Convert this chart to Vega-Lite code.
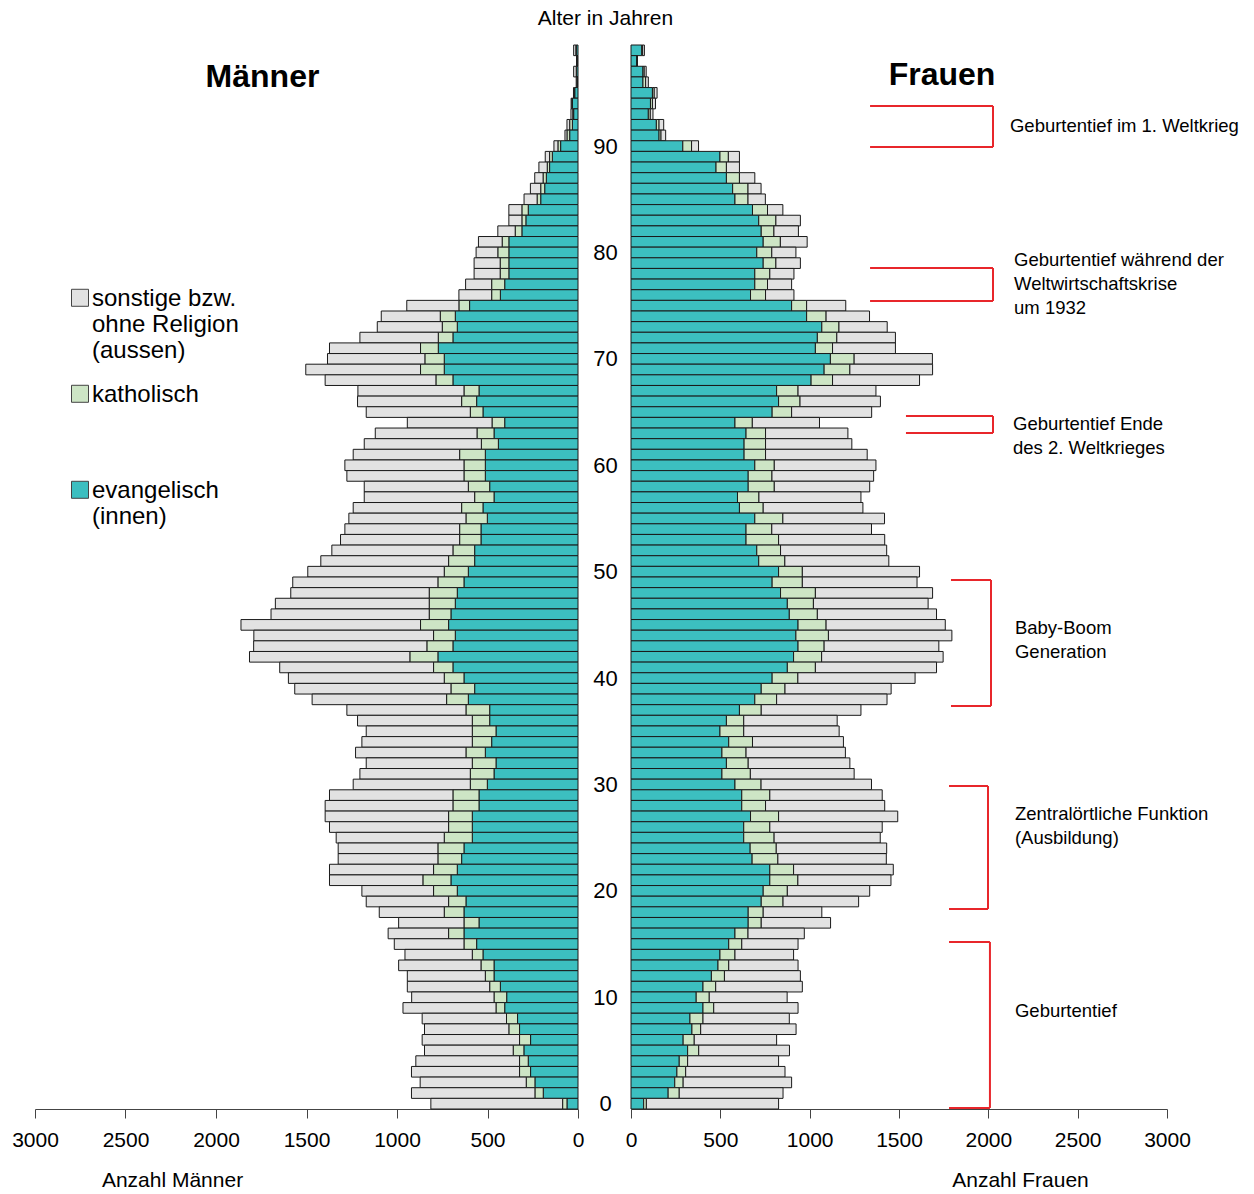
{
"$schema": "https://vega.github.io/schema/vega-lite/v6.json",
"background": "white",
"padding": {"left": 11, "top": 7, "right": 0, "bottom": 0},
"config": {"font": "Liberation Sans", "view": {"stroke": null}, "axis": {"grid": false}, "style": {"guide-label": {"lineHeight": 26}}},
"datasets": {
"maenner": [
{"a":99,"ev":10,"ka":2,"so":12},{"a":98,"ev":5,"ka":0,"so":3},{"a":97,"ev":8,"ka":2,"so":14},{"a":96,"ev":5,"ka":1,"so":4},{"a":95,"ev":18,"ka":2,"so":5},
{"a":94,"ev":31,"ka":3,"so":4},{"a":93,"ev":24,"ka":5,"so":10},{"a":92,"ev":31,"ka":15,"so":15},{"a":91,"ev":46,"ka":15,"so":11},{"a":90,"ev":96,"ka":15,"so":22},
{"a":89,"ev":142,"ka":15,"so":24},{"a":88,"ev":157,"ka":13,"so":46},{"a":87,"ev":175,"ka":18,"so":46},{"a":86,"ev":184,"ka":22,"so":57},{"a":85,"ev":206,"ka":20,"so":72},
{"a":84,"ev":275,"ka":35,"so":72},{"a":83,"ev":288,"ka":22,"so":72},{"a":82,"ev":310,"ka":37,"so":96},{"a":81,"ev":382,"ka":37,"so":131},{"a":80,"ev":382,"ka":61,"so":120},
{"a":79,"ev":382,"ka":48,"so":144},{"a":78,"ev":382,"ka":48,"so":144},{"a":77,"ev":405,"ka":72,"so":144},{"a":76,"ev":429,"ka":48,"so":181},{"a":75,"ev":599,"ka":59,"so":288},
{"a":74,"ev":678,"ka":83,"so":326},{"a":73,"ev":667,"ka":83,"so":359},{"a":72,"ev":691,"ka":81,"so":433},{"a":71,"ev":772,"ka":98,"so":503},{"a":70,"ev":739,"ka":107,"so":538},
{"a":69,"ev":739,"ka":131,"so":634},{"a":68,"ev":691,"ka":94,"so":612},{"a":67,"ev":547,"ka":83,"so":586},{"a":66,"ev":560,"ka":83,"so":575},{"a":65,"ev":525,"ka":70,"so":575},
{"a":64,"ev":405,"ka":70,"so":468},{"a":63,"ev":464,"ka":94,"so":562},{"a":62,"ev":440,"ka":94,"so":647},{"a":61,"ev":512,"ka":142,"so":588},{"a":60,"ev":512,"ka":118,"so":658},
{"a":59,"ev":512,"ka":118,"so":647},{"a":58,"ev":488,"ka":118,"so":575},{"a":57,"ev":464,"ka":107,"so":610},{"a":56,"ev":525,"ka":118,"so":599},{"a":55,"ev":501,"ka":118,"so":647},
{"a":54,"ev":536,"ka":118,"so":634},{"a":53,"ev":536,"ka":118,"so":658},{"a":52,"ev":571,"ka":120,"so":669},{"a":51,"ev":571,"ka":144,"so":706},{"a":50,"ev":606,"ka":133,"so":754},
{"a":49,"ev":630,"ka":144,"so":802},{"a":48,"ev":667,"ka":155,"so":765},{"a":47,"ev":678,"ka":144,"so":850},{"a":46,"ev":702,"ka":120,"so":874},{"a":45,"ev":715,"ka":155,"so":992},
{"a":44,"ev":678,"ka":120,"so":993},{"a":43,"ev":691,"ka":144,"so":957},{"a":42,"ev":774,"ka":155,"so":886},{"a":41,"ev":691,"ka":107,"so":850},{"a":40,"ev":630,"ka":109,"so":861},
{"a":39,"ev":571,"ka":131,"so":863},{"a":38,"ev":606,"ka":120,"so":743},{"a":37,"ev":488,"ka":131,"so":658},{"a":36,"ev":488,"ka":96,"so":634},{"a":35,"ev":453,"ka":131,"so":586},
{"a":34,"ev":477,"ka":107,"so":610},{"a":33,"ev":512,"ka":107,"so":610},{"a":32,"ev":453,"ka":131,"so":586},{"a":31,"ev":464,"ka":131,"so":610},{"a":30,"ev":501,"ka":94,"so":647},
{"a":29,"ev":547,"ka":144,"so":682},{"a":28,"ev":547,"ka":144,"so":706},{"a":27,"ev":584,"ka":131,"so":682},{"a":26,"ev":584,"ka":131,"so":658},{"a":25,"ev":584,"ka":155,"so":597},
{"a":24,"ev":630,"ka":144,"so":551},{"a":23,"ev":643,"ka":131,"so":551},{"a":22,"ev":667,"ka":131,"so":575},{"a":21,"ev":702,"ka":155,"so":516},{"a":20,"ev":667,"ka":131,"so":396},
{"a":19,"ev":619,"ka":96,"so":455},{"a":18,"ev":630,"ka":109,"so":359},{"a":17,"ev":547,"ka":83,"so":361},{"a":16,"ev":630,"ka":85,"so":334},{"a":15,"ev":560,"ka":70,"so":385},
{"a":14,"ev":525,"ka":59,"so":372},{"a":13,"ev":464,"ka":72,"so":455},{"a":12,"ev":464,"ka":48,"so":431},{"a":11,"ev":429,"ka":59,"so":455},{"a":10,"ev":394,"ka":70,"so":455},
{"a":9,"ev":405,"ka":48,"so":514},{"a":8,"ev":334,"ka":61,"so":466},{"a":7,"ev":323,"ka":59,"so":466},{"a":6,"ev":262,"ka":61,"so":538},{"a":5,"ev":299,"ka":59,"so":490},
{"a":4,"ev":275,"ka":48,"so":573},{"a":3,"ev":262,"ka":61,"so":597},{"a":2,"ev":238,"ka":48,"so":586},{"a":1,"ev":192,"ka":46,"so":682},{"a":0,"ev":61,"ka":24,"so":728}
],
"frauen": [
{"a":99,"ev":60,"ka":5,"so":10},{"a":98,"ev":34,"ka":0,"so":0},{"a":97,"ev":67,"ka":7,"so":11},{"a":96,"ev":67,"ka":15,"so":15},{"a":95,"ev":120,"ka":10,"so":16},
{"a":94,"ev":109,"ka":11,"so":17},{"a":93,"ev":97,"ka":11,"so":15},{"a":92,"ev":142,"ka":15,"so":26},{"a":91,"ev":157,"ka":11,"so":26},{"a":90,"ev":290,"ka":49,"so":39},
{"a":89,"ev":498,"ka":47,"so":62},{"a":88,"ev":476,"ka":58,"so":73},{"a":87,"ev":534,"ka":73,"so":86},{"a":86,"ev":569,"ka":86,"so":73},{"a":85,"ev":582,"ka":73,"so":97},
{"a":84,"ev":680,"ka":84,"so":86},{"a":83,"ev":715,"ka":96,"so":137},{"a":82,"ev":729,"ka":71,"so":137},{"a":81,"ev":740,"ka":96,"so":150},{"a":80,"ev":704,"ka":84,"so":135},
{"a":79,"ev":740,"ka":71,"so":137},{"a":78,"ev":693,"ka":84,"so":135},{"a":77,"ev":693,"ka":71,"so":135},{"a":76,"ev":669,"ka":84,"so":159},{"a":75,"ev":899,"ka":84,"so":219},
{"a":74,"ev":983,"ka":109,"so":243},{"a":73,"ev":1068,"ka":96,"so":270},{"a":72,"ev":1043,"ka":109,"so":328},{"a":71,"ev":1032,"ka":96,"so":352},{"a":70,"ev":1116,"ka":133,"so":438},
{"a":69,"ev":1081,"ka":144,"so":463},{"a":68,"ev":1008,"ka":120,"so":487},{"a":67,"ev":815,"ka":120,"so":436},{"a":66,"ev":826,"ka":120,"so":450},{"a":65,"ev":790,"ka":109,"so":448},
{"a":64,"ev":582,"ka":97,"so":376},{"a":63,"ev":644,"ka":109,"so":461},{"a":62,"ev":633,"ka":120,"so":483},{"a":61,"ev":633,"ka":120,"so":569},{"a":60,"ev":693,"ka":109,"so":569},
{"a":59,"ev":656,"ka":133,"so":569},{"a":58,"ev":656,"ka":146,"so":534},{"a":57,"ev":596,"ka":120,"so":571},{"a":56,"ev":607,"ka":133,"so":558},{"a":55,"ev":693,"ka":157,"so":569},
{"a":54,"ev":644,"ka":144,"so":558},{"a":53,"ev":644,"ka":182,"so":594},{"a":52,"ev":704,"ka":133,"so":594},{"a":51,"ev":715,"ka":146,"so":582},{"a":50,"ev":826,"ka":133,"so":656},
{"a":49,"ev":790,"ka":169,"so":642},{"a":48,"ev":837,"ka":195,"so":656},{"a":47,"ev":875,"ka":146,"so":642},{"a":46,"ev":886,"ka":157,"so":667},{"a":45,"ev":935,"ka":157,"so":667},
{"a":44,"ev":923,"ka":182,"so":691},{"a":43,"ev":935,"ka":146,"so":642},{"a":42,"ev":910,"ka":157,"so":680},{"a":41,"ev":875,"ka":157,"so":678},{"a":40,"ev":790,"ka":144,"so":656},
{"a":39,"ev":729,"ka":133,"so":594},{"a":38,"ev":693,"ka":122,"so":618},{"a":37,"ev":607,"ka":122,"so":558},{"a":36,"ev":534,"ka":97,"so":523},{"a":35,"ev":498,"ka":133,"so":534},
{"a":34,"ev":547,"ka":133,"so":509},{"a":33,"ev":509,"ka":135,"so":556},{"a":32,"ev":534,"ka":122,"so":569},{"a":31,"ev":509,"ka":159,"so":581},{"a":30,"ev":582,"ka":146,"so":618},
{"a":29,"ev":620,"ka":157,"so":629},{"a":28,"ev":620,"ka":133,"so":667},{"a":27,"ev":669,"ka":157,"so":667},{"a":26,"ev":631,"ka":146,"so":629},{"a":25,"ev":631,"ka":170,"so":594},
{"a":24,"ev":667,"ka":146,"so":618},{"a":23,"ev":678,"ka":144,"so":607},{"a":22,"ev":777,"ka":133,"so":558},{"a":21,"ev":777,"ka":157,"so":521},{"a":20,"ev":740,"ka":135,"so":461},
{"a":19,"ev":729,"ka":122,"so":423},{"a":18,"ev":656,"ka":84,"so":328},{"a":17,"ev":656,"ka":73,"so":388},{"a":16,"ev":582,"ka":73,"so":315},{"a":15,"ev":547,"ka":73,"so":315},
{"a":14,"ev":498,"ka":84,"so":328},{"a":13,"ev":487,"ka":60,"so":388},{"a":12,"ev":450,"ka":73,"so":425},{"a":11,"ev":403,"ka":71,"so":485},{"a":10,"ev":365,"ka":73,"so":436},
{"a":9,"ev":403,"ka":60,"so":472},{"a":8,"ev":330,"ka":73,"so":483},{"a":7,"ev":341,"ka":49,"so":534},{"a":6,"ev":292,"ka":62,"so":461},{"a":5,"ev":317,"ka":62,"so":508},
{"a":4,"ev":270,"ka":47,"so":509},{"a":3,"ev":257,"ka":49,"so":556},{"a":2,"ev":245,"ka":47,"so":607},{"a":1,"ev":208,"ka":62,"so":581},{"a":0,"ev":71,"ka":15,"so":740}
],
"anno": [
{"von": 89.91, "bis": 93.77, "x1": 1338, "x2": 2026, "tx": 2121, "ty": 92.71, "txt": ["Geburtentief im 1. Weltkrieg"]},
{"von": 75.44, "bis": 78.54, "x1": 1338, "x2": 2026, "tx": 2144, "ty": 80.12, "txt": ["Geburtentief während der", "Weltwirtschaftskrise", "um 1932"]},
{"von": 63.03, "bis": 64.63, "x1": 1539, "x2": 2026, "tx": 2138, "ty": 64.7, "txt": ["Geburtentief Ende", "des 2. Weltkrieges"]},
{"von": 37.38, "bis": 49.22, "x1": 1791, "x2": 2015, "tx": 2149, "ty": 45.53, "txt": ["Baby-Boom", "Generation"]},
{"von": 18.3, "bis": 29.86, "x1": 1780, "x2": 1998, "tx": 2149, "ty": 28.05, "txt": ["Zentralörtliche Funktion", "(Ausbildung)"]},
{"von": -0.4, "bis": 15.2, "x1": 1780, "x2": 2009, "tx": 2149, "ty": 9.54, "txt": ["Geburtentief"]}
]
},
"hconcat": [
{
 "width": 543, "height": 1064,
 "data": {"name": "maenner"},
 "transform": [{"fold": ["ev", "ka", "so"], "as": ["rel", "n"]}],
 "title": {"text": "Männer", "fontSize": 32, "fontWeight": "bold", "anchor": "middle", "frame": "group", "dx": -44, "dy": 33, "offset": -31, "baseline": "middle", "color": "#000"},
 "mark": {"type": "bar", "orient": "horizontal", "size": 10.64, "stroke": "#1a1a1a", "strokeWidth": 1},
 "encoding": {
  "y": {"field": "a", "type": "quantitative", "scale": {"domain": [-0.5, 99.5], "nice": false, "zero": false, "padding": 0}, "axis": null},
  "x": {"field": "n", "type": "quantitative", "stack": "zero", "scale": {"domain": [0, 3000], "reverse": true, "nice": false},
        "axis": {"values": [0, 500, 1000, 1500, 2000, 2500, 3000], "format": "d", "labelFlush": false, "labelOverlap": false, "tickSize": 9, "tickColor": "#444", "domainColor": "#444", "labelFontSize": 21, "labelColor": "#000", "labelPadding": 11, "title": "Anzahl Männer", "titleFontSize": 21, "titleFontWeight": "normal", "titleColor": "#000", "titleX": 137, "titleY": 71, "titleAlign": "center", "titleBaseline": "middle"}},
  "color": {"field": "rel", "type": "nominal", "scale": {"domain": ["so", "ka", "ev"], "range": ["#E2E2E2", "#CDE5C5", "#3CBFC0"]},
        "legend": {"orient": "none", "legendX": 33, "legendY": 230, "title": null, "padding": 0, "symbolType": "M-1,0.27L1,0.27L1,2.27L-1,2.27Z", "symbolSize": 289, "symbolStrokeColor": "#444", "symbolStrokeWidth": 1, "labelFontSize": 24, "labelColor": "#000", "labelBaseline": "top", "labelOffset": 0, "rowPadding": 8, "labelLimit": 300,
          "labelExpr": "datum.label == 'so' ? ['sonstige bzw.', 'ohne Religion', '(aussen)'] : datum.label == 'ka' ? ['katholisch', '', ''] : ['evangelisch', '(innen)', '']"}},
  "order": {"field": "rel", "sort": "ascending"}
 }
},
{
 "width": 536, "height": 1064,
 "title": {"text": "Frauen", "fontSize": 32, "fontWeight": "bold", "anchor": "middle", "frame": "group", "dx": 43, "dy": 71, "offset": -29, "baseline": "middle", "color": "#000"},
 "layer": [
  {
   "data": {"name": "frauen"},
   "transform": [{"fold": ["ev", "ka", "so"], "as": ["rel", "n"]}],
   "mark": {"type": "bar", "orient": "horizontal", "size": 10.64, "stroke": "#1a1a1a", "strokeWidth": 1},
   "encoding": {
    "y": {"field": "a", "type": "quantitative", "scale": {"domain": [-0.5, 99.5], "nice": false, "zero": false, "padding": 0},
          "axis": {"orient": "left", "values": [0, 10, 20, 30, 40, 50, 60, 70, 80, 90], "domain": false, "ticks": false, "tickSize": 0, "labelAlign": "center", "labelBaseline": "middle", "labelPadding": 26, "labelFontSize": 22, "labelColor": "#000", "grid": false,
                   "title": "Alter in Jahren", "titleAngle": 0, "titleX": -26, "titleY": -27, "titleAlign": "center", "titleBaseline": "middle", "titleFontSize": 21, "titleFontWeight": "normal", "titleColor": "#000"}},
    "x": {"field": "n", "type": "quantitative", "stack": "zero", "scale": {"domain": [0, 3000], "nice": false},
          "axis": {"values": [0, 500, 1000, 1500, 2000, 2500, 3000], "format": "d", "labelFlush": false, "labelOverlap": false, "tickSize": 9, "tickColor": "#444", "domainColor": "#444", "labelFontSize": 21, "labelColor": "#000", "labelPadding": 11, "title": "Anzahl Frauen", "titleFontSize": 21, "titleFontWeight": "normal", "titleColor": "#000", "titleX": 389, "titleY": 71, "titleAlign": "center", "titleBaseline": "middle"}},
    "color": {"field": "rel", "type": "nominal", "scale": {"domain": ["so", "ka", "ev"], "range": ["#E2E2E2", "#CDE5C5", "#3CBFC0"]},
          "legend": {"orient": "none", "legendX": 33, "legendY": 230, "title": null, "padding": 0, "symbolType": "M-1,0.27L1,0.27L1,2.27L-1,2.27Z", "symbolSize": 289, "symbolStrokeColor": "#444", "symbolStrokeWidth": 1, "labelFontSize": 24, "labelColor": "#000", "labelBaseline": "top", "labelOffset": 0, "rowPadding": 8, "labelLimit": 300,
            "labelExpr": "datum.label == 'so' ? ['sonstige bzw.', 'ohne Religion', '(aussen)'] : datum.label == 'ka' ? ['katholisch', '', ''] : ['evangelisch', '(innen)', '']"}},
    "order": {"field": "rel", "sort": "ascending"}
   }
  },
  {
   "data": {"name": "anno"},
   "mark": {"type": "rule", "color": "#E8262B", "strokeWidth": 2},
   "encoding": {"x": {"field": "x1", "type": "quantitative"}, "x2": {"field": "x2"}, "y": {"field": "bis", "type": "quantitative"}}
  },
  {
   "data": {"name": "anno"},
   "mark": {"type": "rule", "color": "#E8262B", "strokeWidth": 2},
   "encoding": {"x": {"field": "x1", "type": "quantitative"}, "x2": {"field": "x2"}, "y": {"field": "von", "type": "quantitative"}}
  },
  {
   "data": {"name": "anno"},
   "mark": {"type": "rule", "color": "#E8262B", "strokeWidth": 2},
   "encoding": {"x": {"field": "x2", "type": "quantitative"}, "y": {"field": "von", "type": "quantitative"}, "y2": {"field": "bis"}}
  },
  {
   "data": {"name": "anno"},
   "mark": {"type": "text", "align": "left", "baseline": "top", "fontSize": 18.5, "lineHeight": 24, "color": "#000"},
   "encoding": {"x": {"field": "tx", "type": "quantitative"}, "y": {"field": "ty", "type": "quantitative"}, "text": {"field": "txt", "type": "nominal"}}
  }
 ]
}
],
"spacing": 53,
"bounds": "flush",
"resolve": {"scale": {"color": "shared", "x": "independent", "y": "independent"}, "legend": {"color": "shared"}}
}
